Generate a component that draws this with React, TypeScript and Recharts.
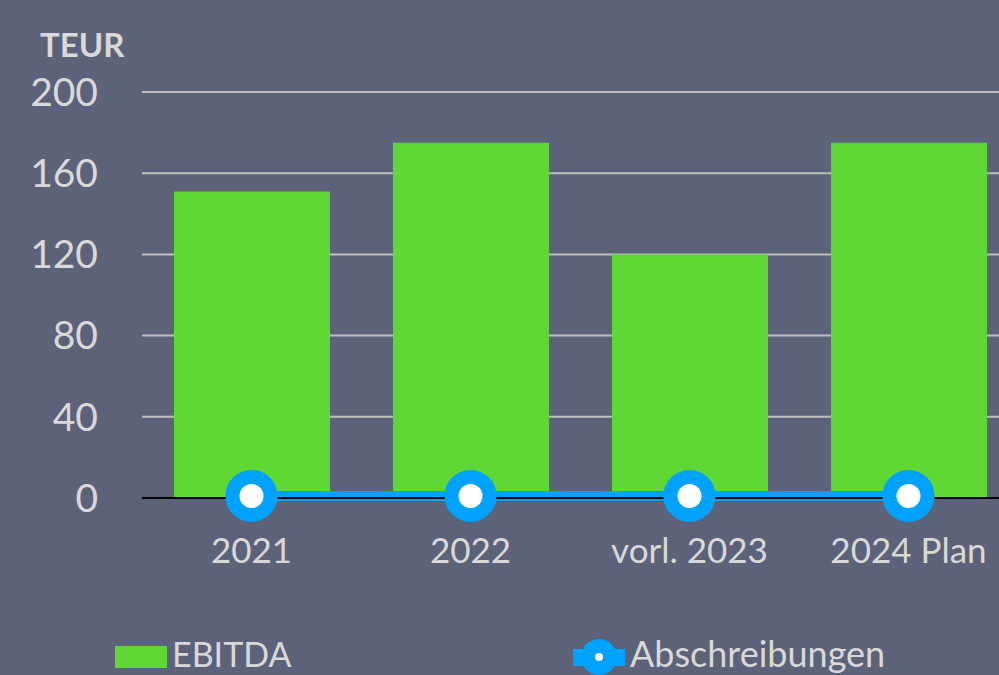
import React from 'react';
import { ComposedChart, Bar, Line, XAxis, YAxis, CartesianGrid, Legend } from 'recharts';

const categories = ['2021', '2022', 'vorl. 2023', '2024 Plan'];
const ebitda = [151, 175, 120, 175];
const abschreibungen = [1, 1, 1, 1];
const yTicks = [0, 40, 80, 120, 160, 200];

const data = categories.map((year, i) => ({
  year,
  ebitda: ebitda[i],
  abschreibungen: abschreibungen[i],
}));

const BG = '#5c6278';
const TEXT = '#d9d9d9';
const GREEN = '#5fd835';
const BLUE = '#00a2ff';
const FONT = 'Lato, "Open Sans", sans-serif';

// legend drawn by hand so the markers look like the original
const renderLegend = () => (
  <div style={{ position: 'relative', width: 999, height: 45, fontFamily: FONT, color: TEXT }}>
    <div style={{ position: 'absolute', left: 115, top: 16, width: 52, height: 22, background: GREEN }} />
    <span style={{ position: 'absolute', left: 172, top: 4, lineHeight: '40px', fontSize: 34 }}>EBITDA</span>
    <svg style={{ position: 'absolute', left: 572, top: 8 }} width={54} height={38}>
      <rect x={1} y={11} width={52} height={17} fill={BLUE} />
      <circle cx={27} cy={19} r={18} fill={BLUE} />
      <circle cx={27} cy={19} r={4} fill="#fff" />
    </svg>
    <span style={{ position: 'absolute', left: 630, top: 3, lineHeight: '40px', fontSize: 36 }}>Abschreibungen</span>
  </div>
);

const App = () => {
  return (
    <div style={{ position: 'absolute', left: 0, top: 0, width: 999, height: 675, overflow: 'hidden', background: BG }}>
      <div
        style={{
          position: 'absolute',
          left: 40,
          top: 24,
          fontFamily: FONT,
          fontWeight: 700,
          fontSize: 33,
          color: TEXT,
        }}
      >
        TEUR
      </div>
      <ComposedChart
        width={1018}
        height={675}
        data={data}
        margin={{ top: 92, right: 0, left: 0, bottom: 72 }}
        style={{ fontFamily: FONT }}
      >
        <CartesianGrid vertical={false} stroke="#bfbfbf" strokeWidth={2} />
        <XAxis
          dataKey="year"
          height={60}
          tickLine={false}
          tickSize={0}
          tickMargin={40}
          axisLine={{ stroke: '#000', strokeWidth: 2 }}
          tick={{ fill: TEXT, fontSize: 35 }}
        />
        <YAxis
          width={142}
          domain={[0, 200]}
          ticks={yTicks}
          axisLine={false}
          tickLine={false}
          tickSize={0}
          tickMargin={44}
          tick={{ fill: TEXT, fontSize: 39 }}
        />
        <Bar dataKey="ebitda" name="EBITDA" fill={GREEN} barSize={156} isAnimationActive={false} />
        <Line
          type="linear"
          dataKey="abschreibungen"
          name="Abschreibungen"
          stroke={BLUE}
          strokeWidth={10}
          dot={{ r: 19, fill: '#fff', stroke: BLUE, strokeWidth: 14 }}
          activeDot={false}
          isAnimationActive={false}
        />
        <Legend
          content={renderLegend}
          wrapperStyle={{ left: 0, top: 630, width: 999, height: 45 }}
        />
      </ComposedChart>
    </div>
  );
};

export default App;
